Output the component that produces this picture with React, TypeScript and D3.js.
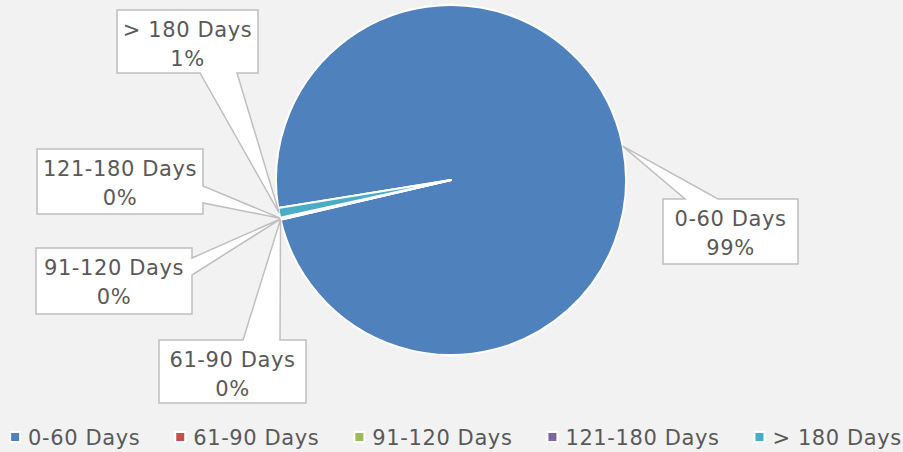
import React from "react";
import * as d3 from "d3";

const categories = ["0-60 Days", "61-90 Days", "91-120 Days", "121-180 Days", "> 180 Days"];
const values = [98.9, 0.05, 0.05, 0.1, 0.9];
const colors = ["#4f81bd", "#c0504d", "#9bbb59", "#8064a2", "#4bacc6"];

// callout layout (box + side of the pointer + pointer base along that side)
const calloutLayout = [
  { x: 663, y: 199, w: 135, h: 65, side: "top", b1: 685, b2: 718 },
  { x: 159, y: 340, w: 147, h: 63, side: "top", b1: 243, b2: 280 },
  { x: 36, y: 248, w: 156, h: 66, side: "right", b1: 258, b2: 275 },
  { x: 37, y: 149, w: 166, h: 65, side: "right", b1: 186, b2: 203 },
  { x: 117, y: 10, w: 141, h: 63, side: "bottom", b1: 200, b2: 237 },
];

const W = 903;
const H = 452;
const CX = 451;
const CY = 180;
const R = 175;
const START = (260.8 * Math.PI) / 180;
const FONT = "'DejaVu Sans', Verdana, sans-serif";
const FS = 21;
const LS = 0.6;
const TEXT = "#595959";

function measure(t: string) {
  const c = document.createElement("canvas").getContext("2d")!;
  c.font = `${FS}px 'DejaVu Sans'`;
  return c.measureText(t).width + LS * t.length;
}

export default function App() {
  const total = d3.sum(values);
  const pie = d3
    .pie<number>()
    .sort(null)
    .startAngle(START)
    .endAngle(START + 2 * Math.PI);
  const arcs = pie(values);
  const arc = d3.arc<d3.PieArcDatum<number>>().innerRadius(0).outerRadius(R);

  const callouts = arcs.map((a, i) => {
    const L = calloutLayout[i];
    const mid = (a.startAngle + a.endAngle) / 2;
    const tx = CX + R * Math.sin(mid);
    const ty = CY - R * Math.cos(mid);
    const { x, y, w, h, b1, b2 } = L;
    let d = "";
    if (L.side === "top") {
      d = `M${x},${y}H${b1}L${tx},${ty}L${b2},${y}H${x + w}V${y + h}H${x}Z`;
    } else if (L.side === "right") {
      d = `M${x},${y}H${x + w}V${b1}L${tx},${ty}L${x + w},${b2}V${y + h}H${x}Z`;
    } else {
      d = `M${x},${y}H${x + w}V${y + h}H${b2}L${tx},${ty}L${b1},${y + h}H${x}Z`;
    }
    const pct = Math.round((values[i] / total) * 100) + "%";
    return { d, x, y, w, pct, name: categories[i] };
  });

  // legend
  const gap = 35;
  const mk = 10;
  const widths = categories.map((c) => mk + 8 + measure(c));
  const totalW = d3.sum(widths) + gap * (categories.length - 1);
  let lx = 456 - totalW / 2;
  const legend = categories.map((c, i) => {
    const item = { x: lx, name: c, color: colors[i] };
    lx += widths[i] + gap;
    return item;
  });
  const LY = 437;

  return (
    <svg
      width={W}
      height={H}
      style={{ position: "absolute", left: 0, top: 0, display: "block" }}
      fontFamily={FONT}
    >
      <rect width={W} height={H} fill="#f2f2f2" />
      <g transform={`translate(${CX},${CY})`}>
        {arcs.map((a, i) => (
          <path
            key={i}
            d={arc(a) || ""}
            fill={colors[i]}
            stroke="#ffffff"
            strokeWidth={2}
            strokeLinejoin="round"
          />
        ))}
      </g>
      {callouts.map((c, i) => (
        <g key={i}>
          <path d={c.d} fill="#ffffff" stroke="#bfbfbf" strokeWidth={1.5} />
          <text
            x={c.x + c.w / 2}
            y={c.y + 27}
            textAnchor="middle"
            fontSize={FS}
            fill={TEXT}
            letterSpacing={LS}
          >
            {c.name}
          </text>
          <text
            x={c.x + c.w / 2}
            y={c.y + 56}
            textAnchor="middle"
            fontSize={FS}
            fill={TEXT}
            letterSpacing={LS}
          >
            {c.pct}
          </text>
        </g>
      ))}
      {legend.map((l, i) => (
        <g key={i}>
          <rect
            x={l.x}
            y={LY - mk / 2}
            width={mk}
            height={mk}
            fill={l.color}
            stroke="#ffffff"
            strokeWidth={2}
          />
          <text
            x={l.x + mk + 8}
            y={LY}
            dy="0.36em"
            fontSize={FS}
            fill={TEXT}
            letterSpacing={LS}
          >
            {l.name}
          </text>
        </g>
      ))}
    </svg>
  );
}
